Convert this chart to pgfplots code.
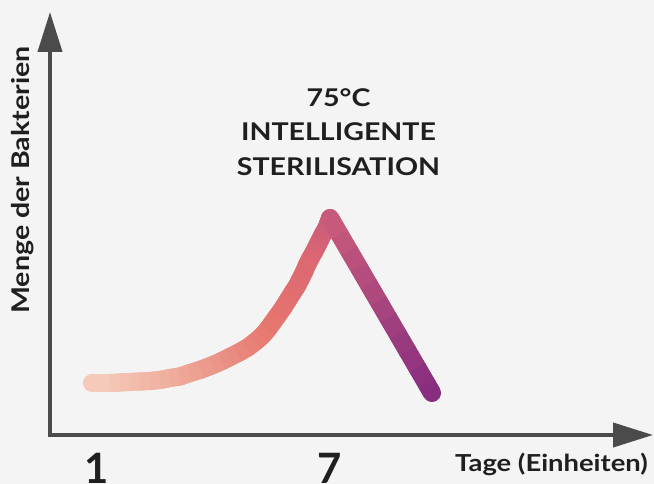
\documentclass[border=0pt]{standalone}
\usepackage{fontspec}
\setmainfont{Lato}
\newfontfamily\wide{Lato}[FakeStretch=1.17]
\usepackage{pgfplots}
\usepackage{pgfplotstable}
\pgfplotsset{compat=1.18}
\usetikzlibrary{arrows.meta}

\definecolor{bg}{HTML}{F4F4F4}
\definecolor{axisgray}{HTML}{4B4B4B}
\definecolor{textc}{HTML}{1F1F1F}

% day, height above the x axis
\pgfplotstableread{
x y
0.871 52
1.335 52
1.592 52.5
1.850 53
2.107 53.5
2.365 54
2.622 55
2.880 57
3.137 58.5
3.395 62
3.652 65
3.987 70
4.219 74
4.425 78
4.631 82
4.863 87
5.069 93
5.249 99
5.403 106
5.532 113
5.661 120
5.790 127
5.919 135
6.047 143
6.150 149
6.228 155
6.331 163
6.408 170
6.485 176
6.588 183
6.665 189
6.743 195
6.820 201
6.897 206
6.949 211
7.000 217
7.25 200.4
7.5 183.7
7.75 167.1
8.0 150.4
8.25 133.8
8.5 117.1
8.75 100.5
9.0 83.8
9.25 67.2
9.5 50.5
9.627 42
}\bakt

\begin{document}
\begin{tikzpicture}
\fill[bg] (-50bp,-49bp) rectangle (604bp,435bp);
\begin{axis}[
  scale only axis, width=603bp, height=423bp,
  xmin=-0.2103, xmax=15.3185, ymin=0, ymax=423,
  axis lines=left, clip=false,
  axis line style={line width=4bp, draw=axisgray, line cap=rect,
    -{Triangle[width=24bp,length=40bp]}},
  xtick={1,7}, xticklabels={1,7}, ytick=\empty,
  major tick length=0pt, tick style={draw=none},
  xticklabel style={font=\fontsize{42}{42}\selectfont\bfseries, text=textc,
    inner sep=0pt, anchor=north, yshift=-18bp},
  xlabel={Tage (Einheiten)},
  xlabel style={at={(axis description cs:0.8317,-0.0686)}, anchor=center,
    font=\wide\fontsize{23.5}{23.5}\selectfont\bfseries, text=textc, inner sep=0pt},
  ylabel={Menge der Bakterien},
  ylabel style={at={(axis description cs:-0.0448,0.603)}, anchor=center,
    font=\wide\fontsize{24.5}{24.5}\selectfont\bfseries, text=textc, inner sep=0pt},
  point meta min=0, point meta max=10,
  colormap={bakt}{rgb255(0cm)=(246,208,192) rgb255(1cm)=(245,204,188)
    rgb255(3cm)=(239,172,156) rgb255(5.5cm)=(230,118,110)
    rgb255(6.5cm)=(220,104,114) rgb255(7cm)=(202,92,122)
    rgb255(8.3cm)=(168,70,126) rgb255(10cm)=(125,36,128)},
]
% round ends underneath, plain segments on top so the joins do not show
\addplot[mesh, point meta=x, line width=18bp, line cap=round] table {\bakt};
\addplot[mesh, point meta=x, line width=18bp, line cap=butt] table {\bakt};
\node[align=center, anchor=north, inner sep=0pt, text=textc,
  font=\wide\fontsize{24.5}{35}\selectfont\bfseries]
  at (axis cs:7.219,347) {75°C\\INTELLIGENTE\\STERILISATION};
\end{axis}
\pgfresetboundingbox
\useasboundingbox (-50bp,-49bp) rectangle (604bp,435bp);
\end{tikzpicture}
\end{document}
